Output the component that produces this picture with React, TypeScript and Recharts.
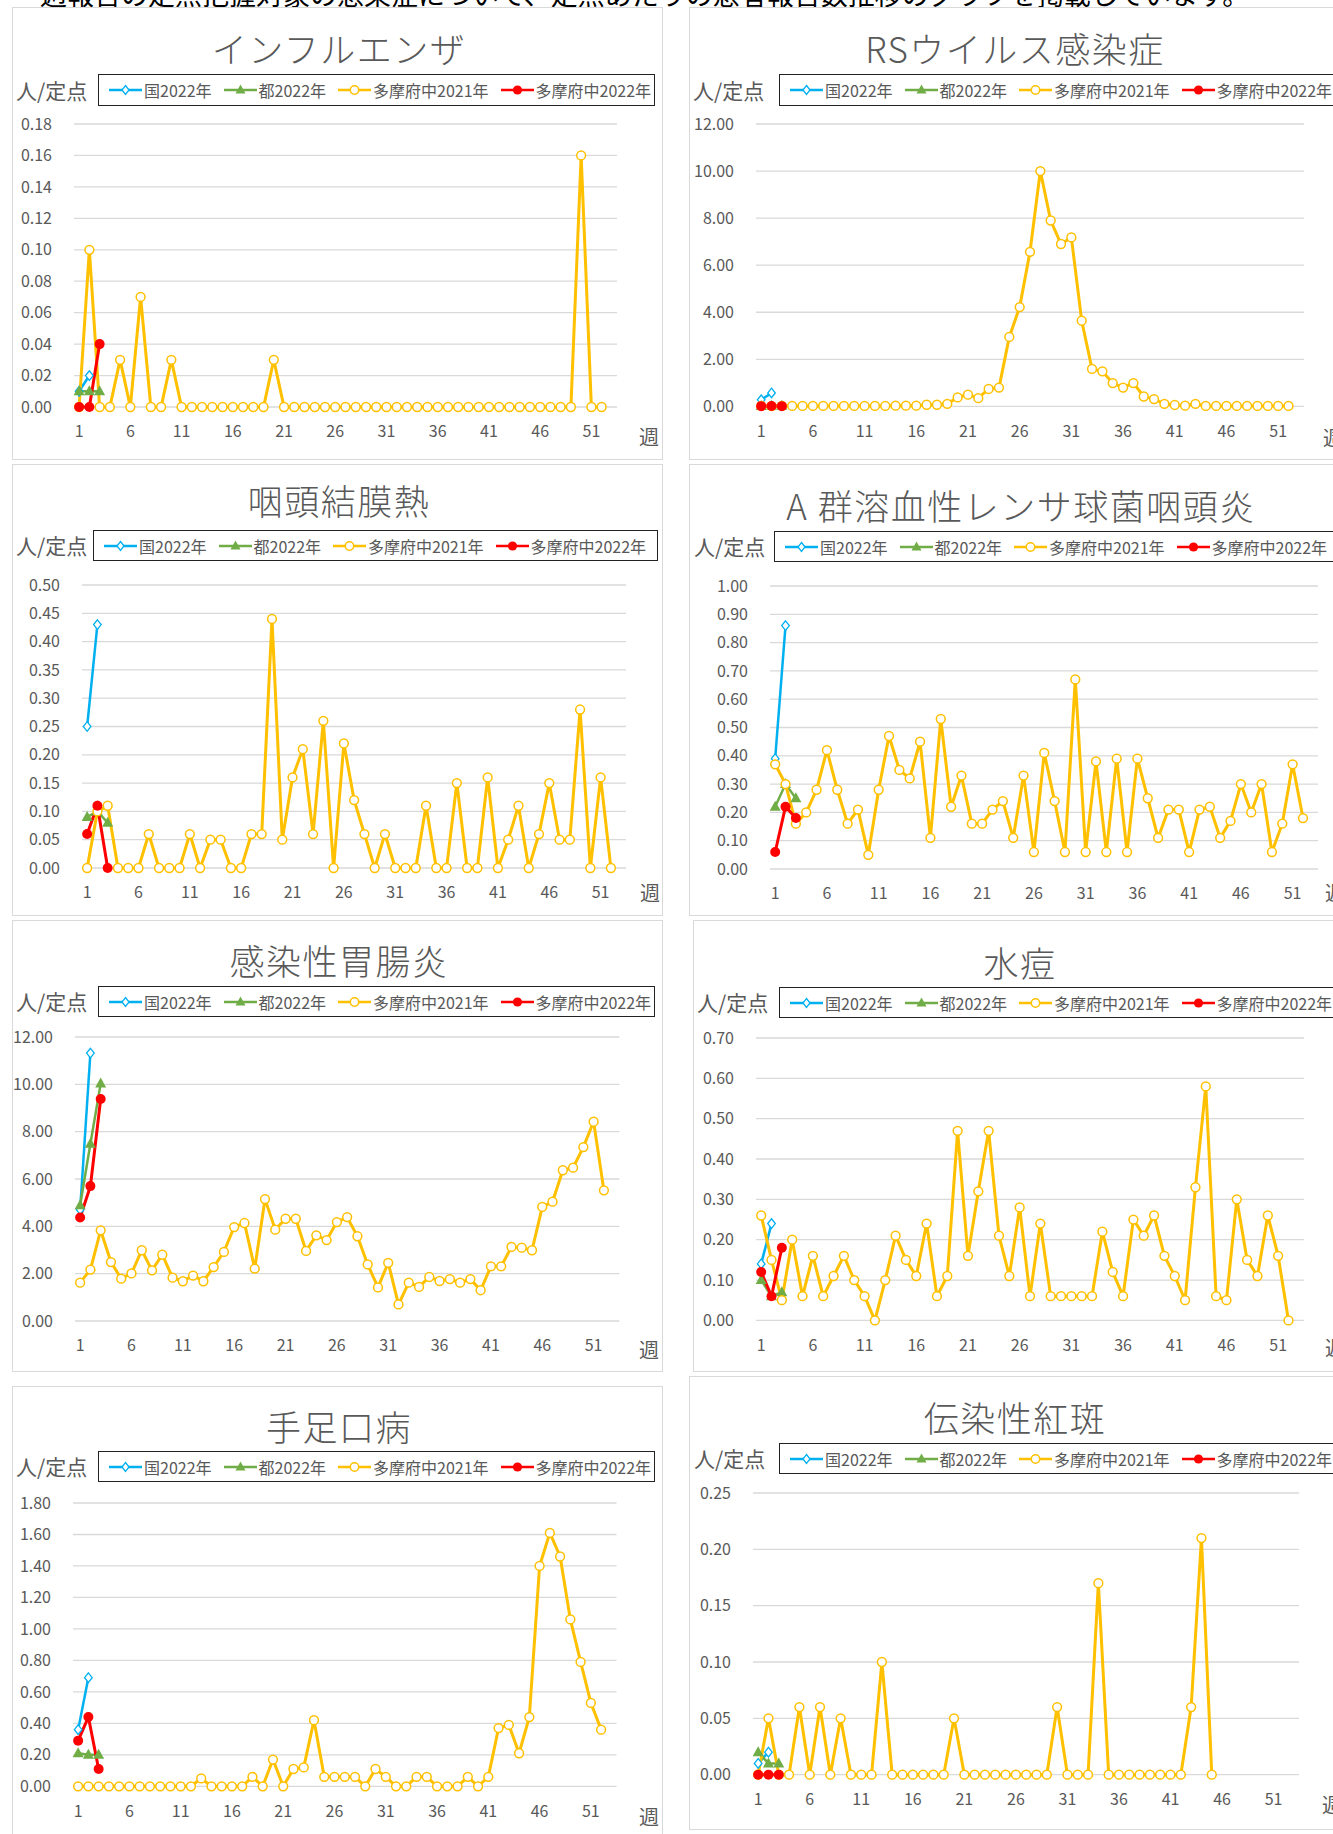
import { LineChart, Line, XAxis, YAxis, CartesianGrid } from 'recharts'

// 週 1..53 (53週目はデータなし)
const WEEKS = [
  1, 2, 3, 4, 5, 6, 7, 8, 9, 10, 11, 12, 13, 14, 15, 16, 17, 18, 19, 20, 21, 22, 23, 24, 25, 26,
  27, 28, 29, 30, 31, 32, 33, 34, 35, 36, 37, 38, 39, 40, 41, 42, 43, 44, 45, 46, 47, 48, 49, 50,
  51, 52, 53,
]
const WEEK_TICKS = [1, 6, 11, 16, 21, 26, 31, 36, 41, 46, 51]

const SERIES_NAMES = ['国2022年', '都2022年', '多摩府中2021年', '多摩府中2022年']

// インフルエンザ
const FLU_KUNI = [0.01, 0.02]
const FLU_TO = [0.01, 0.01, 0.01]
const FLU_2021 = [
  0, 0.1, 0, 0, 0.03, 0, 0.07, 0, 0, 0.03, 0, 0, 0, 0, 0, 0, 0, 0, 0, 0.03, 0, 0, 0, 0, 0, 0, 0,
  0, 0, 0, 0, 0, 0, 0, 0, 0, 0, 0, 0, 0, 0, 0, 0, 0, 0, 0, 0, 0, 0, 0.16, 0, 0,
]
const FLU_2022 = [0, 0, 0.04]
const FLU_TICKS = [0, 0.02, 0.04, 0.06, 0.08, 0.1, 0.12, 0.14, 0.16, 0.18]

// RSウイルス感染症
const RS_KUNI = [0.28, 0.57]
const RS_TO = [0.02, 0.03, 0.03]
const RS_2021 = [
  0.02, 0.01, 0.02, 0.02, 0.02, 0.02, 0.02, 0.02, 0.02, 0.02, 0.02, 0.02, 0.02, 0.03, 0.03, 0.03,
  0.07, 0.07, 0.11, 0.38, 0.5, 0.35, 0.74, 0.8, 2.95, 4.22, 6.57, 10.0, 7.9, 6.9, 7.18, 3.64, 1.59,
  1.49, 0.99, 0.8, 0.99, 0.42, 0.31, 0.11, 0.06, 0.03, 0.11, 0.02, 0.02, 0.02, 0.02, 0.02, 0.02,
  0.02, 0.02, 0.02,
]
const RS_2022 = [0.01, 0.02, 0.01]
const RS_TICKS = [0, 2, 4, 6, 8, 10, 12]

// 咽頭結膜熱
const PCF_KUNI = [0.25, 0.43]
const PCF_TO = [0.09, 0.1, 0.08]
const PCF_2021 = [
  0, 0.1, 0.11, 0, 0, 0, 0.06, 0, 0, 0, 0.06, 0, 0.05, 0.05, 0, 0, 0.06, 0.06, 0.44, 0.05, 0.16,
  0.21, 0.06, 0.26, 0, 0.22, 0.12, 0.06, 0, 0.06, 0, 0, 0, 0.11, 0, 0, 0.15, 0, 0, 0.16, 0, 0.05,
  0.11, 0, 0.06, 0.15, 0.05, 0.05, 0.28, 0, 0.16, 0,
]
const PCF_2022 = [0.06, 0.11, 0]
const PCF_TICKS = [0, 0.05, 0.1, 0.15, 0.2, 0.25, 0.3, 0.35, 0.4, 0.45, 0.5]

// A群溶血性レンサ球菌咽頭炎
const GAS_KUNI = [0.39, 0.86]
const GAS_TO = [0.22, 0.3, 0.25]
const GAS_2021 = [
  0.37, 0.3, 0.16, 0.2, 0.28, 0.42, 0.28, 0.16, 0.21, 0.05, 0.28, 0.47, 0.35, 0.32, 0.45, 0.11,
  0.53, 0.22, 0.33, 0.16, 0.16, 0.21, 0.24, 0.11, 0.33, 0.06, 0.41, 0.24, 0.06, 0.67, 0.06, 0.38,
  0.06, 0.39, 0.06, 0.39, 0.25, 0.11, 0.21, 0.21, 0.06, 0.21, 0.22, 0.11, 0.17, 0.3, 0.2, 0.3,
  0.06, 0.16, 0.37, 0.18,
]
const GAS_2022 = [0.06, 0.22, 0.18]
const GAS_TICKS = [0, 0.1, 0.2, 0.3, 0.4, 0.5, 0.6, 0.7, 0.8, 0.9, 1.0]

// 感染性胃腸炎
const GE_KUNI = [4.7, 11.32]
const GE_TO = [4.89, 7.49, 10.03]
const GE_2021 = [
  1.62, 2.17, 3.83, 2.49, 1.79, 2.01, 2.99, 2.14, 2.8, 1.83, 1.68, 1.92, 1.68, 2.28, 2.92, 3.97,
  4.14, 2.21, 5.15, 3.86, 4.32, 4.32, 2.96, 3.62, 3.42, 4.18, 4.39, 3.58, 2.39, 1.42, 2.46, 0.7,
  1.62, 1.44, 1.86, 1.69, 1.77, 1.62, 1.77, 1.3, 2.31, 2.31, 3.13, 3.1, 2.99, 4.82, 5.04, 6.37,
  6.48, 7.35, 8.42, 5.52,
]
const GE_2022 = [4.37, 5.7, 9.38]
const GE_TICKS = [0, 2, 4, 6, 8, 10, 12]

// 水痘
const VAR_KUNI = [0.14, 0.24]
const VAR_TO = [0.1, 0.06, 0.07]
const VAR_2021 = [
  0.26, 0.15, 0.05, 0.2, 0.06, 0.16, 0.06, 0.11, 0.16, 0.1, 0.06, 0, 0.1, 0.21, 0.15, 0.11, 0.24,
  0.06, 0.11, 0.47, 0.16, 0.32, 0.47, 0.21, 0.11, 0.28, 0.06, 0.24, 0.06, 0.06, 0.06, 0.06, 0.06,
  0.22, 0.12, 0.06, 0.25, 0.21, 0.26, 0.16, 0.11, 0.05, 0.33, 0.58, 0.06, 0.05, 0.3, 0.15, 0.11,
  0.26, 0.16, 0,
]
const VAR_2022 = [0.12, 0.06, 0.18]
const VAR_TICKS = [0, 0.1, 0.2, 0.3, 0.4, 0.5, 0.6, 0.7]

// 手足口病
const HFMD_KUNI = [0.36, 0.69]
const HFMD_TO = [0.21, 0.2, 0.2]
const HFMD_2021 = [
  0, 0, 0, 0, 0, 0, 0, 0, 0, 0, 0, 0, 0.05, 0, 0, 0, 0, 0.06, 0, 0.17, 0, 0.11, 0.12, 0.42, 0.06,
  0.06, 0.06, 0.06, 0, 0.11, 0.06, 0, 0, 0.06, 0.06, 0, 0, 0, 0.06, 0, 0.06, 0.37, 0.39, 0.21,
  0.44, 1.4, 1.61, 1.46, 1.06, 0.79, 0.53, 0.36,
]
const HFMD_2022 = [0.29, 0.44, 0.11]
const HFMD_TICKS = [0, 0.2, 0.4, 0.6, 0.8, 1.0, 1.2, 1.4, 1.6, 1.8]

// 伝染性紅斑
const ERY_KUNI = [0.01, 0.02]
const ERY_TO = [0.02, 0.01, 0.01]
const ERY_2021 = [
  0, 0.05, 0, 0, 0.06, 0, 0.06, 0, 0.05, 0, 0, 0, 0.1, 0, 0, 0, 0, 0, 0, 0.05, 0, 0, 0, 0, 0, 0,
  0, 0, 0, 0.06, 0, 0, 0, 0.17, 0, 0, 0, 0, 0, 0, 0, 0, 0.06, 0.21, 0,
]
const ERY_2022 = [0, 0, 0]
const ERY_TICKS = [0, 0.05, 0.1, 0.15, 0.2, 0.25]

const BLUE = '#00B0F0'
const GREEN = '#70AD47'
const YELLOW = '#FFC000'
const RED = '#FF0000'
const GRAY_TEXT = '#595959'
const FONT = '"Noto Sans CJK JP", "Noto Sans", sans-serif'

type Panel = {
  title: string
  box: number[] // left, top, width, height
  titleX: number
  titleY: number
  unitX: number
  unitY: number
  legend: number[] // left, top, width, height
  grid: number[] // left, right, top, bottom
  weekX: number
  weekY: number
  ticks: number[]
  kuni: number[]
  to: number[]
  y2021: number[]
  y2022: number[]
}

const PANELS: Panel[] = [
  {
    title: 'インフルエンザ', box: [12, 7, 651, 453], titleX: 339, titleY: 48, unitX: 16, unitY: 90,
    legend: [98, 74, 557, 32], grid: [73.5, 616.5, 124.3, 407.3], weekX: 639, weekY: 437,
    ticks: FLU_TICKS, kuni: FLU_KUNI, to: FLU_TO, y2021: FLU_2021, y2022: FLU_2022,
  },
  {
    title: 'RSウイルス感染症', box: [689, 7, 651, 453], titleX: 1015, titleY: 48, unitX: 693, unitY: 90,
    legend: [779, 74, 557, 32], grid: [756, 1304, 124.3, 406.7], weekX: 1323, weekY: 438,
    ticks: RS_TICKS, kuni: RS_KUNI, to: RS_TO, y2021: RS_2021, y2022: RS_2022,
  },
  {
    title: '咽頭結膜熱', box: [12, 464, 651, 452], titleX: 339, titleY: 500, unitX: 16, unitY: 545,
    legend: [93, 530, 565, 31], grid: [81.7, 626, 585.3, 868.3], weekX: 640, weekY: 893,
    ticks: PCF_TICKS, kuni: PCF_KUNI, to: PCF_TO, y2021: PCF_2021, y2022: PCF_2022,
  },
  {
    title: 'A 群溶血性レンサ球菌咽頭炎', box: [689, 464, 651, 452], titleX: 1021, titleY: 505, unitX: 694, unitY: 546,
    legend: [774, 531, 565, 31], grid: [769.5, 1318, 585.7, 868.7], weekX: 1325, weekY: 893,
    ticks: GAS_TICKS, kuni: GAS_KUNI, to: GAS_TO, y2021: GAS_2021, y2022: GAS_2022,
  },
  {
    title: '感染性胃腸炎', box: [12, 920, 651, 452], titleX: 339, titleY: 960, unitX: 16, unitY: 1001,
    legend: [98, 986, 557, 31], grid: [75.4, 619.7, 1036.7, 1320.7], weekX: 639, weekY: 1350,
    ticks: GE_TICKS, kuni: GE_KUNI, to: GE_TO, y2021: GE_2021, y2022: GE_2022,
  },
  {
    title: '水痘', box: [693, 920, 651, 452], titleX: 1020, titleY: 962, unitX: 697, unitY: 1002,
    legend: [779, 987, 557, 31], grid: [756, 1304, 1038.3, 1320.7], weekX: 1325, weekY: 1348,
    ticks: VAR_TICKS, kuni: VAR_KUNI, to: VAR_TO, y2021: VAR_2021, y2022: VAR_2022,
  },
  {
    title: '手足口病', box: [12, 1386, 651, 460], titleX: 339, titleY: 1426, unitX: 16, unitY: 1466,
    legend: [98, 1451, 557, 31], grid: [73.3, 616.8, 1502.7, 1786], weekX: 639, weekY: 1817,
    ticks: HFMD_TICKS, kuni: HFMD_KUNI, to: HFMD_TO, y2021: HFMD_2021, y2022: HFMD_2022,
  },
  {
    title: '伝染性紅斑', box: [689, 1376, 651, 454], titleX: 1015, titleY: 1417, unitX: 694, unitY: 1458,
    legend: [779, 1443, 557, 31], grid: [752.6, 1299, 1493.3, 1775], weekX: 1322, weekY: 1805,
    ticks: ERY_TICKS, kuni: ERY_KUNI, to: ERY_TO, y2021: ERY_2021, y2022: ERY_2022,
  },
]

const skip = (p: any) => p.cx == null || p.cy == null || p.value == null

const diamondDot = (p: any) => {
  if (skip(p)) return <g key={`kd${p.index}`} />
  const { cx, cy } = p
  return (
    <path key={`kd${p.index}`} d={`M${cx},${cy - 4.8}L${cx + 3.8},${cy}L${cx},${cy + 4.8}L${cx - 3.8},${cy}Z`}
      fill="#fff" stroke={BLUE} strokeWidth={1.3} />
  )
}
const triangleDot = (p: any) => {
  if (skip(p)) return <g key={`td${p.index}`} />
  const { cx, cy } = p
  return <path key={`td${p.index}`} d={`M${cx},${cy - 6}L${cx + 5.5},${cy + 4}L${cx - 5.5},${cy + 4}Z`} fill={GREEN} />
}
const openDot = (p: any) => {
  if (skip(p)) return <g key={`od${p.index}`} />
  return <circle key={`od${p.index}`} cx={p.cx} cy={p.cy} r={4.4} fill="#fff" stroke={YELLOW} strokeWidth={1.5} />
}
const redDot = (p: any) => {
  if (skip(p)) return <g key={`rd${p.index}`} />
  return <circle key={`rd${p.index}`} cx={p.cx} cy={p.cy} r={5} fill={RED} />
}

function LegendIcon({ i }: { i: number }) {
  const color = [BLUE, GREEN, YELLOW, RED][i]
  return (
    <svg width={33} height={14} style={{ display: 'block' }}>
      <line x1={0} y1={7} x2={33} y2={7} stroke={color} strokeWidth={2.5} />
      {i === 0 && <path d="M16.5,2.5L20,7L16.5,11.5L13,7Z" fill="#fff" stroke={BLUE} strokeWidth={1.3} />}
      {i === 1 && <path d="M16.5,1.5L21.5,10.5L11.5,10.5Z" fill={GREEN} />}
      {i === 2 && <circle cx={16.5} cy={7} r={4.2} fill="#fff" stroke={YELLOW} strokeWidth={1.5} />}
      {i === 3 && <circle cx={16.5} cy={7} r={4.6} fill={RED} />}
    </svg>
  )
}

function ChartPanel({ p }: { p: Panel }) {
  const rows = WEEKS.map((w, i) => ({
    week: w,
    kuni: i < p.kuni.length ? p.kuni[i] : null,
    to: i < p.to.length ? p.to[i] : null,
    y2021: i < p.y2021.length ? p.y2021[i] : null,
    y2022: i < p.y2022.length ? p.y2022[i] : null,
  }))
  const yw = 70
  const mt = 10
  const xh = 40
  const [gl, gr, gt, gb] = p.grid
  const left = gl - yw
  const top = gt - mt
  const width = gr - left
  const height = gb + xh - top
  const max = p.ticks[p.ticks.length - 1]
  const tickStyle = { fontSize: 16, fill: GRAY_TEXT, fontFamily: FONT }
  const [lx, ly, lw, lh] = p.legend

  return (
    <>
      <div style={{ position: 'absolute', left: p.box[0], top: p.box[1], width: p.box[2], height: p.box[3], border: '1.5px solid #D9D9D9', boxSizing: 'border-box', background: '#fff' }} />
      <div style={{ position: 'absolute', left: p.titleX, top: p.titleY - 20, transform: 'translateX(-50%)', fontSize: 35, fontWeight: 300, letterSpacing: 1.5, lineHeight: '40px', color: GRAY_TEXT, whiteSpace: 'nowrap', fontFamily: FONT }}>
        {p.title}
      </div>
      <div style={{ position: 'absolute', left: p.unitX, top: p.unitY - 13, fontSize: 21, lineHeight: '26px', color: GRAY_TEXT, whiteSpace: 'nowrap', fontFamily: FONT }}>
        人/定点
      </div>
      <div style={{ position: 'absolute', left: lx, top: ly, width: lw, height: lh, border: '1.5px solid #222', boxSizing: 'border-box', display: 'flex', alignItems: 'center', paddingLeft: 10, whiteSpace: 'nowrap', overflow: 'hidden', fontFamily: FONT, fontSize: 16, color: GRAY_TEXT }}>
        {SERIES_NAMES.map((name, i) => (
          <div key={name} style={{ display: 'flex', alignItems: 'center', marginRight: 12 }}>
            <LegendIcon i={i} />
            <span style={{ marginLeft: 2 }}>{name}</span>
          </div>
        ))}
      </div>
      <div style={{ position: 'absolute', left: p.weekX, top: p.weekY - 13, fontSize: 20, lineHeight: '26px', color: GRAY_TEXT, fontFamily: FONT }}>
        週
      </div>
      <div style={{ position: 'absolute', left, top }}>
        <LineChart width={width} height={height} data={rows} margin={{ top: mt, right: 0, bottom: 0, left: 0 }}>
          <CartesianGrid vertical={false} stroke="#D9D9D9" strokeWidth={1.3} />
          <XAxis
            dataKey="week"
            type="number"
            domain={[0.5, 53.5]}
            ticks={WEEK_TICKS}
            height={xh}
            tickLine={false}
            axisLine={false}
            tickSize={0}
            tickMargin={19}
            tick={tickStyle}
          />
          <YAxis
            type="number"
            domain={[0, max]}
            ticks={p.ticks}
            width={yw}
            tickLine={false}
            axisLine={false}
            tickSize={0}
            tickMargin={22}
            tick={tickStyle}
            tickFormatter={(v: number) => v.toFixed(2)}
          />
          <Line dataKey="kuni" stroke={BLUE} strokeWidth={2.5} dot={diamondDot} isAnimationActive={false} />
          <Line dataKey="to" stroke={GREEN} strokeWidth={2.5} dot={triangleDot} isAnimationActive={false} />
          <Line dataKey="y2021" stroke={YELLOW} strokeWidth={3} dot={openDot} isAnimationActive={false} />
          <Line dataKey="y2022" stroke={RED} strokeWidth={3} dot={redDot} isAnimationActive={false} />
        </LineChart>
      </div>
    </>
  )
}

export default function App() {
  return (
    <div style={{ position: 'relative', width: 1333, height: 1834, overflow: 'hidden', background: '#fff', fontFamily: FONT }}>
      <style>{'body{margin:0}'}</style>
      <div style={{ position: 'absolute', left: 40, top: -21, fontSize: 27, lineHeight: '30px', color: '#000', whiteSpace: 'nowrap' }}>
        週報告の定点把握対象の感染症について、定点あたりの患者報告数推移のグラフを掲載しています。
      </div>
      {PANELS.map((p) => (
        <ChartPanel key={p.title} p={p} />
      ))}
    </div>
  )
}
